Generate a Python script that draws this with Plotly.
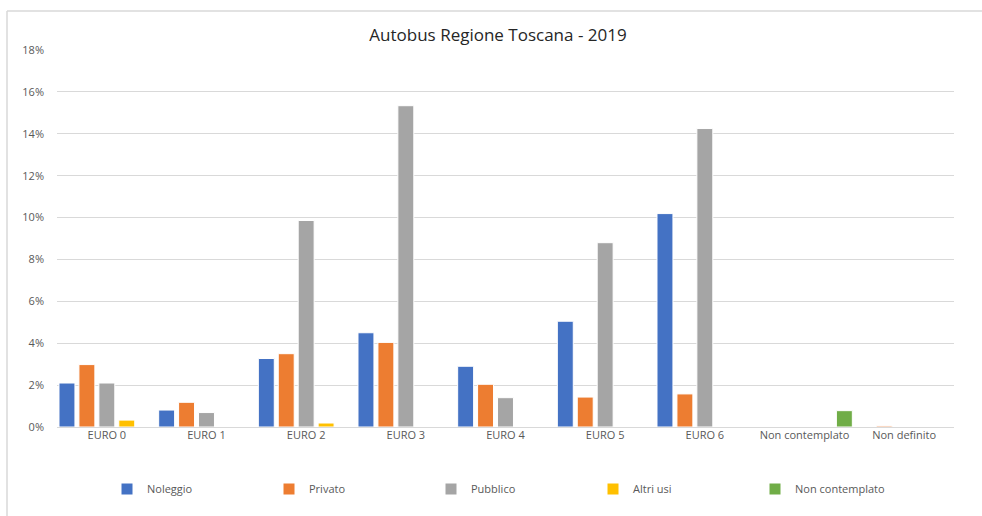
import plotly.graph_objects as go

# Euro emission classes on the x axis
categories = ["EURO 0", "EURO 1", "EURO 2", "EURO 3", "EURO 4", "EURO 5",
              "EURO 6", "Non contemplato", "Non definito"]

# Share of buses (fraction of total) per usage type
noleggio = [0.0210, 0.0081, 0.0327, 0.0450, 0.0290, 0.0505, 0.1019, None, None]
privato = [0.0298, 0.0118, 0.0350, 0.0404, 0.0204, 0.0143, 0.0158, None, 0.0005]
pubblico = [0.0210, 0.0069, 0.0986, 0.1534, 0.0140, 0.0880, 0.1425, None, None]
altri_usi = [0.0033, None, 0.0019, None, None, None, None, None, None]
non_contemplato = [None, None, None, None, None, None, None, 0.0078, None]

series_names = ["Noleggio", "Privato", "Pubblico", "Altri usi", "Non contemplato"]
series_values = [noleggio, privato, pubblico, altri_usi, non_contemplato]
series_colors = ["#4472C4", "#ED7D31", "#A5A5A5", "#FFC000", "#70AD47"]

y_ticks = [0, 0.02, 0.04, 0.06, 0.08, 0.10, 0.12, 0.14, 0.16, 0.18]
y_tick_labels = ["0%", "2%", "4%", "6%", "8%", "10%", "12%", "14%", "16%", "18%"]

font_family = "Open Sans, Noto Sans, sans-serif"

W, H = 982, 516
M_L, M_R, M_T, M_B = 57, 28, 50, 89
plot_w = W - M_L - M_R
plot_h = H - M_T - M_B

fig = go.Figure()
for name, vals, color in zip(series_names, series_values, series_colors):
    fig.add_trace(go.Bar(
        x=categories, y=vals, name=name,
        marker=dict(color=color, line=dict(color="white", width=1)),
    ))

# chart-area frame (top and left edges)
frame_x = (7 - M_L) / plot_w
frame_top = 1 + (M_T - 11) / plot_h
frame_bottom = -M_B / plot_h

fig.update_layout(
    width=W, height=H,
    margin=dict(l=M_L, r=M_R, t=M_T, b=M_B),
    paper_bgcolor="white", plot_bgcolor="white",
    barmode="group", bargap=0.0, bargroupgap=0.2,
    font=dict(family=font_family, color="#595959", size=11),
    title=dict(
        text="Autobus Regione Toscana - 2019",
        x=498 / W, xanchor="center", y=1 - 35 / H, yanchor="middle",
        font=dict(family=font_family, size=17, color="#262626"),
    ),
    xaxis=dict(showgrid=False, showline=False, ticks="",
               tickfont=dict(size=11, color="#595959")),
    yaxis=dict(range=[0, 0.18], tickvals=y_ticks, ticktext=y_tick_labels,
               showgrid=True, gridcolor="#D9D9D9", gridwidth=1,
               zeroline=True, zerolinecolor="#D9D9D9", zerolinewidth=1,
               showline=False, ticks="", ticklabelstandoff=12,
               tickfont=dict(size=11, color="#595959")),
    legend=dict(
        orientation="h", xref="container", yref="container",
        x=107 / W, xanchor="left",
        y=1 - 489 / H, yanchor="middle",
        entrywidth=117, entrywidthmode="pixels",
        font=dict(size=11, color="#595959"),
        itemwidth=30, traceorder="normal",
    ),
    shapes=[
        dict(type="line", xref="paper", yref="paper",
             x0=frame_x, x1=1 + M_R / plot_w, y0=frame_top, y1=frame_top,
             line=dict(color="#D9D9D9", width=1.5)),
        dict(type="line", xref="paper", yref="paper",
             x0=frame_x, x1=frame_x, y0=frame_top, y1=frame_bottom,
             line=dict(color="#D9D9D9", width=1.5)),
    ],
)

fig.write_html("out.html")
